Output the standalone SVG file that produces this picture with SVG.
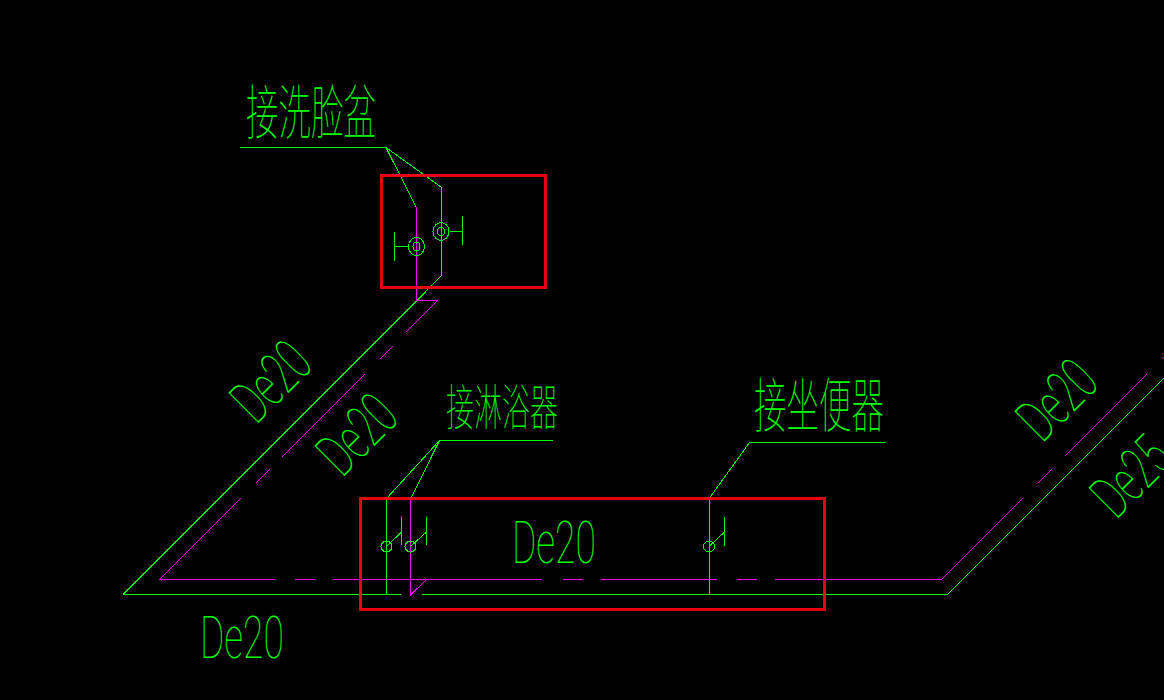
<svg xmlns="http://www.w3.org/2000/svg" width="1164" height="700" viewBox="0 0 1164 700" shape-rendering="crispEdges">
<style>
.g{stroke:#0f0;stroke-width:1;fill:none}
.m{stroke:#f0f;stroke-width:1;fill:none}
.r{stroke:#e60012;stroke-width:3;fill:none}
.d{font-family:"Roboto","Liberation Sans",sans-serif;font-weight:100;font-size:60px;fill:#0f0}
.c{font-family:"Noto Sans CJK SC",sans-serif;font-weight:100;fill:#0f0}
</style>
<rect width="1164" height="700" fill="#000"/>
<g id="connectors">
<path class="g" d="M123 594.500H401M422 594.500H947.500L1164 378M123 594.500L417 300.500L441 276V187L386 147.500M240 147.500H386L416 207M439.500 440.500H552.500M439.500 440.500L387 498M439.500 440.500L411 498M749.500 442.500H886M749.500 442.500L709.500 498"/>
<path class="g" d="M386.500 499V594M709.500 499V594"/>
<path class="m" d="M416.500 207V300.500H437.500L406 332M393 346L379.500 359.500M365 374L282 457M270 469L256 483M241 498L159.500 579.500H275M295 579.500H315M333 579.500H542M563 579.500H583M601 579.500H717M737 579.500H757M775 579.500H941.500L1023 498M1052 469L1038 483M1065 456L1147 374M1162 359L1164 357M410.500 499V595L426 580"/>
</g>
<g id="fixture-basin-1"><ellipse class="g" cx="416.500" cy="246.500" rx="8" ry="9"/><ellipse class="g" cx="416.500" cy="246.500" rx="3.500" ry="4.500"/><path class="g" d="M408 246.500H394.500M394.500 232V261"/></g>
<g id="fixture-basin-2"><ellipse class="g" cx="441" cy="231.500" rx="8" ry="9"/><ellipse class="g" cx="441" cy="231.500" rx="3.500" ry="4.500"/><path class="g" d="M449.500 231.500H462.500M462.500 216V245"/></g>
<g id="fixture-shower-1"><circle class="g" cx="386.500" cy="546.500" r="5.500"/><path class="g" d="M386.500 546.500L401.500 532M401.500 517V545"/></g>
<g id="fixture-shower-2"><circle class="g" cx="410.500" cy="546.500" r="5.500"/><path class="g" d="M410.500 546.500L426.500 532M426.500 517V545"/></g>
<g id="fixture-toilet"><circle class="g" cx="709" cy="546.500" r="5.500"/><path class="g" d="M709 546.500L724.500 532M724.500 517V546"/></g>
<g id="box-basin"><rect class="r" x="381.500" y="175.500" width="164" height="112"/></g>
<g id="box-fixtures"><rect class="r" x="360" y="498.500" width="464" height="110.500"/></g>
<g id="labels">
<text class="c" transform="translate(246,134) scale(.58,1.05)" font-size="56">接洗脸盆</text>
<text class="c" transform="translate(446,425) scale(.5,.88)" font-size="56">接淋浴器</text>
<text class="c" transform="translate(754,427) scale(.58,1.05)" font-size="56">接坐便器</text>
<text class="d" transform="translate(512,563) scale(.62,1)">De20</text>
<text class="d" transform="translate(200,658) scale(.62,1)">De20</text>
<text class="d" transform="translate(256,425.500) rotate(-45) scale(.62,1)">De20</text>
<text class="d" transform="translate(342,478.500) rotate(-45) scale(.62,1)">De20</text>
<text class="d" transform="translate(1042,444) rotate(-45) scale(.62,1)">De20</text>
<text class="d" transform="translate(1116,520.500) rotate(-45) scale(.62,1)">De25</text>
</g>
</svg>
